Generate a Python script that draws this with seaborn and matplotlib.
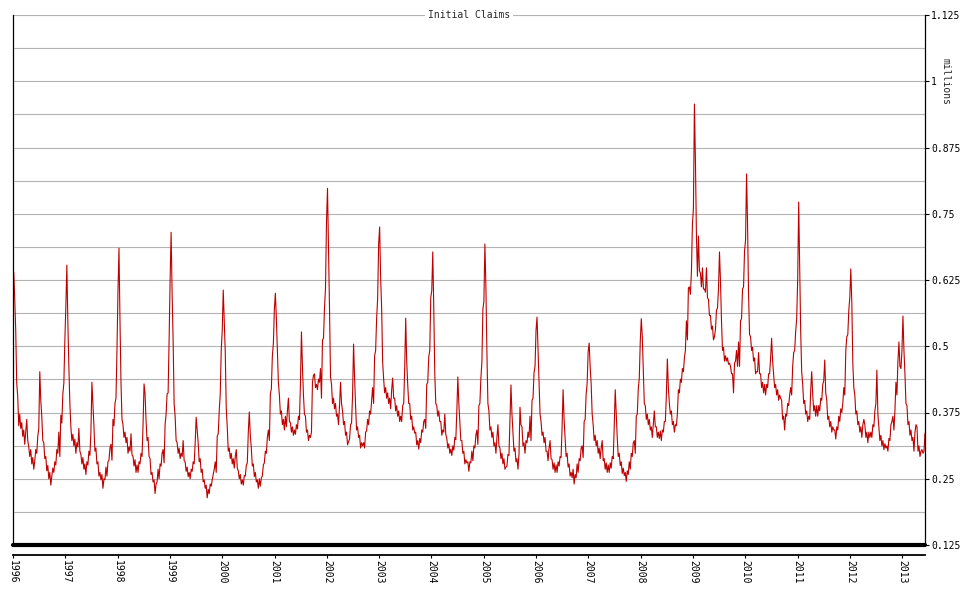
import numpy as np
import pandas as pd
import matplotlib
matplotlib.use("Agg")
import matplotlib.pyplot as plt
import matplotlib.dates as mdates
from matplotlib.ticker import MultipleLocator, FuncFormatter
import seaborn as sns

# weekly initial claims (not seasonally adjusted), thousands, weeks ending Saturday
claims_1996 = [640, 590, 530, 430, 405, 350, 372, 345, 356, 330, 342, 315, 338,
               362, 322, 310, 292, 305, 278, 290, 268, 284, 305, 298, 330, 345,
               452, 398, 368, 322, 318, 288, 292, 265, 275, 250, 262, 238, 255,
               270, 262, 282, 276, 305, 298, 338, 292, 370, 355, 410, 430, 510]
claims_1997 = [575, 653, 545, 462, 392, 348, 322, 334, 312, 325, 298, 318, 310,
               345, 302, 296, 278, 290, 268, 278, 258, 282, 276, 302, 294, 338,
               432, 392, 350, 302, 308, 278, 282, 255, 262, 248, 258, 232, 250,
               248, 272, 255, 282, 285, 308, 315, 285, 362, 350, 392, 402, 492]
claims_1998 = [605, 685, 548, 432, 362, 352, 328, 338, 318, 328, 298, 310, 302,
               335, 295, 292, 274, 286, 262, 276, 262, 282, 278, 298, 292, 352,
               429, 410, 360, 322, 328, 292, 288, 258, 262, 244, 248, 222, 240,
               244, 268, 250, 278, 274, 298, 305, 280, 352, 372, 410, 412, 512]
claims_1999 = [625, 715, 600, 512, 392, 368, 322, 318, 298, 308, 288, 298, 292,
               322, 284, 282, 264, 272, 254, 262, 250, 268, 264, 282, 278, 318,
               366, 342, 318, 282, 288, 262, 268, 244, 248, 232, 238, 214, 230,
               222, 240, 236, 248, 258, 268, 282, 262, 330, 335, 378, 410, 492]
claims_2000 = [530,
               606, 548, 490, 382, 348, 302, 308, 288, 298, 278, 288, 270, 292,
               305, 270, 265, 250, 258, 240, 248, 238, 256, 255, 275, 280, 338,
               376, 332, 308, 274, 278, 254, 262, 244, 248, 232, 250, 236, 252,
               255, 276, 280, 302, 298, 328, 342, 322, 410, 420, 482, 505, 570]
claims_2001 = [600, 552, 490, 432, 408, 372, 378, 352, 362, 342, 368, 348, 378,
               402, 358, 356, 338, 348, 332, 342, 334, 352, 344, 368, 362, 428,
               527, 462, 408, 372, 368, 338, 342, 322, 332, 328, 338, 432, 445,
               448, 422, 428, 418, 438, 432, 458, 402, 512, 515, 572, 610, 735]
claims_2002 = [798, 690, 572, 442, 428, 392, 402, 382, 392, 368, 372, 352, 388,
               432, 392, 378, 352, 358, 332, 338, 314, 320, 325, 352, 355, 408,
               504, 442, 388, 342, 348, 328, 332, 308, 318, 312, 318, 308, 338,
               340, 362, 352, 378, 372, 398, 422, 392, 482, 492, 552, 590, 692]
claims_2003 = [725, 630, 572, 470, 438, 412, 422, 402, 412, 392, 402, 382, 418,
               440, 402, 402, 378, 388, 368, 378, 358, 368, 358, 388, 392, 458,
               553, 472, 428, 392, 392, 362, 368, 342, 348, 336, 338, 314, 322,
               306, 326, 318, 342, 338, 358, 362, 345, 428, 432, 480, 492, 592]
claims_2004 = [605, 678, 572, 448, 392, 388, 368, 378, 358, 358, 332, 342, 338,
               372, 334, 326, 308, 316, 298, 306, 294, 312, 304, 328, 324, 378,
               442, 392, 358, 322, 322, 298, 302, 278, 286, 280, 282, 264, 282,
               280, 302, 284, 312, 308, 332, 342, 315, 388, 392, 440, 470, 570]
claims_2005 = [585,
               693, 612, 490, 392, 378, 342, 348, 328, 338, 312, 318, 298, 328,
               352, 312, 308, 288, 298, 278, 288, 268, 272, 274, 296, 294, 358,
               427, 372, 338, 302, 308, 282, 288, 268, 296, 385, 352, 348, 312,
               318, 298, 322, 318, 338, 328, 368, 322, 398, 402, 450, 462, 530]
claims_2006 = [555, 492, 428, 372, 358, 332, 338, 318, 328, 302, 302, 284, 308,
               322, 288, 286, 268, 280, 262, 276, 262, 282, 274, 292, 290, 348,
               418, 362, 328, 292, 298, 272, 278, 255, 262, 252, 268, 240, 258,
               252, 278, 262, 288, 284, 308, 312, 290, 358, 362, 410, 430, 490]
claims_2007 = [506, 462, 428, 372, 352, 322, 332, 312, 322, 298, 308, 288, 308,
               322, 284, 288, 268, 280, 262, 276, 262, 280, 270, 292, 288, 348,
               418, 372, 328, 292, 298, 275, 282, 260, 270, 256, 262, 245, 265,
               258, 282, 268, 298, 292, 318, 322, 298, 368, 372, 420, 440, 510]
claims_2008 = [552, 518, 458, 392, 388, 362, 372, 352, 362, 342, 348, 328, 352,
               378, 348, 348, 328, 338, 326, 340, 322, 342, 338, 358, 358, 408,
               476, 422, 392, 372, 378, 352, 358, 338, 352, 350, 372, 418, 412,
               438, 432, 458, 452, 478, 492, 548, 512, 610, 612, 598, 640, 730]
claims_2009 = [760, 957, 850, 710, 632, 708, 642, 638, 612, 648, 608, 608, 602,
               648, 592, 588, 558, 558, 532, 538, 512, 518, 532, 568, 572, 608,
               678, 622, 548, 492, 498, 472, 482, 472, 478, 466, 468, 462, 448,
               448, 412, 468, 472, 492, 462, 508, 462, 548, 552, 608, 612, 680]
claims_2010 = [700, 825, 730, 598, 522, 518, 492, 498, 472, 478, 448, 452, 452,
               488, 448, 448, 422, 432, 412, 428, 408, 428, 422, 448, 448, 478,
               515, 472, 448, 422, 428, 408, 418, 398, 408, 402, 398, 362, 368,
               342, 372, 368, 392, 388, 408, 422, 408, 462, 488, 492, 528, 552]
claims_2011 = [625,
               772, 650, 528, 452, 428, 392, 398, 372, 378, 358, 368, 362, 418,
               452, 408, 378, 388, 368, 388, 368, 388, 378, 402, 398, 428, 435,
               474, 412, 398, 362, 368, 348, 358, 338, 348, 342, 342, 325, 348,
               342, 368, 358, 382, 375, 392, 422, 408, 492, 518, 522, 568, 592]
claims_2012 = [646, 582, 468, 422, 408, 372, 378, 352, 358, 338, 348, 328, 352,
               362, 352, 328, 338, 318, 338, 328, 338, 328, 352, 348, 378, 392,
               455, 372, 348, 322, 332, 312, 322, 305, 316, 308, 312, 302, 326,
               322, 352, 358, 368, 342, 378, 432, 408, 472, 508, 462, 458, 492]
claims_2013 = [557, 492, 448, 392, 388, 352, 358, 332, 342, 322, 328, 302, 338,
               352, 348, 302, 312, 292, 302, 305, 298, 302, 336]

all_years = [claims_1996, claims_1997, claims_1998, claims_1999, claims_2000,
             claims_2001, claims_2002, claims_2003, claims_2004, claims_2005,
             claims_2006, claims_2007, claims_2008, claims_2009, claims_2010,
             claims_2011, claims_2012, claims_2013]

values = np.concatenate(all_years) / 1000.0
weeks = pd.date_range("1996-01-06", periods=len(values), freq="W-SAT")
df = pd.DataFrame({"week": weeks, "claims": values})

sns.set_style("white")
plt.rcParams["font.family"] = ["DejaVu Sans Mono"]

fig = plt.figure(figsize=(9.72, 5.90), dpi=100)
ax = fig.add_axes([13 / 972, 45 / 590, 912 / 972, 530 / 590])

sns.lineplot(data=df, x="week", y="claims", ax=ax, color="#c00000",
             linewidth=0.8, estimator=None)

ax.set_ylim(0.125, 1.125)
ax.set_xlim(pd.Timestamp("1996-01-01"), weeks[-1])
ax.set_xlabel("")
ax.set_ylabel("")

# y axis on the right
ax.yaxis.tick_right()
ax.yaxis.set_major_locator(MultipleLocator(0.125))
ax.yaxis.set_minor_locator(MultipleLocator(0.0625))
ax.yaxis.set_major_formatter(FuncFormatter(lambda v, p: f"{v:g}"))
ax.grid(True, which="both", axis="y", color="#b4b4b4", lw=0.8)
ax.tick_params(axis="y", which="major", direction="out", length=3, width=0.8,
               labelsize=7, pad=1.5, colors="black", left=False, right=True)
ax.tick_params(axis="y", which="minor", length=0)

# x axis years
ax.xaxis.set_major_locator(mdates.YearLocator())
ax.xaxis.set_major_formatter(mdates.DateFormatter("%Y"))
ax.tick_params(axis="x", direction="out", length=2.5, width=0.8, labelsize=7,
               labelrotation=-90, pad=1, colors="black", bottom=True)

ax.spines["top"].set_visible(False)
for s in ["left", "right"]:
    ax.spines[s].set_linewidth(0.9)
    ax.spines[s].set_color("black")
ax.spines["bottom"].set_position(("outward", 7))
ax.spines["bottom"].set_linewidth(1.3)
ax.spines["bottom"].set_color("black")

# thick base line at the bottom of the plot area
ax.axhline(0.125, color="black", lw=3, clip_on=False, zorder=5)

ax.text(0.5, 1.0, "Initial Claims", transform=ax.transAxes, ha="center",
        va="center", fontsize=7,
        bbox=dict(facecolor="white", edgecolor="none", pad=2))
ax.text(1.022, 0.875, "millions", transform=ax.transAxes, rotation=-90,
        ha="center", va="center", fontsize=7)

fig.savefig("out.png", dpi=100)
